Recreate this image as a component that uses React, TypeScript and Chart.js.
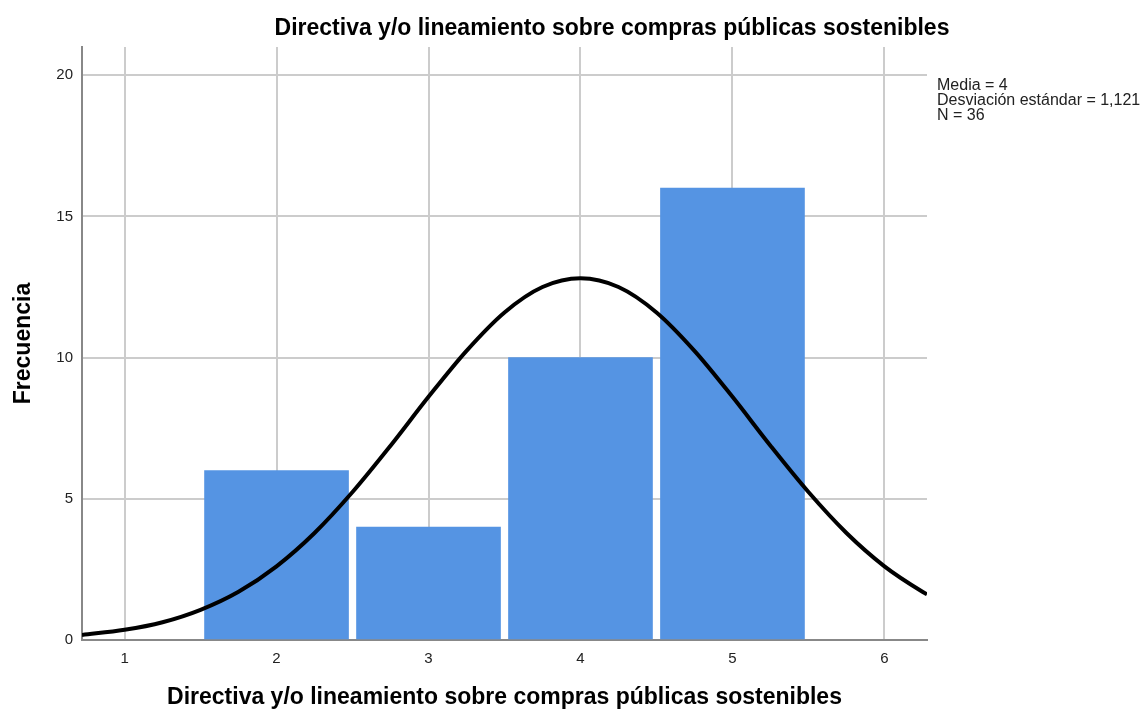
import React, { useEffect, useRef } from "react";
import { Chart, registerables } from "chart.js";

Chart.register(...registerables);

const chartTitle = "Directiva y/o lineamiento sobre compras públicas sostenibles";
const xTitle = "Directiva y/o lineamiento sobre compras públicas sostenibles";
const yTitle = "Frecuencia";
const statsLines = ["Media = 4", "Desviación estándar = 1,121", "N = 36"];

const barCategories = [2, 3, 4, 5];
const barCounts = [6, 4, 10, 16];

const xTickValues = [1, 2, 3, 4, 5, 6];
const yTickValues = [0, 5, 10, 15, 20];

// normal curve points
const curveX = [0.72, 1.0, 1.25, 1.5, 1.75, 2.0, 2.25, 2.5, 2.75, 3.0, 3.25, 3.5, 3.75, 4.0, 4.25, 4.5, 4.75, 5.0, 5.25, 5.5, 5.75, 6.0, 6.25, 6.28];
const curveY = [0.18, 0.36, 0.63, 1.07, 1.71, 2.61, 3.79, 5.24, 6.88, 8.61, 10.24, 11.6, 12.5, 12.81, 12.5, 11.6, 10.24, 8.61, 6.88, 5.24, 3.79, 2.61, 1.71, 1.62];

const FONT = "'Liberation Sans', Arial, sans-serif";

const textPlugin = {
  id: "texts",
  afterDraw(chart: any) {
    const ctx = chart.ctx;
    const area = chart.chartArea;
    ctx.save();
    ctx.fillStyle = "#000";
    ctx.textBaseline = "middle";
    ctx.textAlign = "center";
    ctx.font = `bold 23px ${FONT}`;
    ctx.fillText(chartTitle, 612, 29);
    ctx.fillText(xTitle, (area.left + area.right) / 2, 698);
    ctx.save();
    ctx.translate(24, (area.top + area.bottom) / 2);
    ctx.rotate(-Math.PI / 2);
    ctx.fillText(yTitle, 0, 0);
    ctx.restore();
    ctx.textAlign = "left";
    ctx.font = `16px ${FONT}`;
    ctx.fillStyle = "#222";
    statsLines.forEach((t, i) => ctx.fillText(t, area.right + 10, 86 + i * 15));
    ctx.restore();
  },
};

export default function App() {
  const ref = useRef<HTMLCanvasElement>(null);
  useEffect(() => {
    const chart = new Chart(ref.current!, {
      type: "bar",
      data: {
        datasets: [
          {
            type: "line",
            data: curveX.map((x, i) => ({ x, y: curveY[i] })),
            borderColor: "#000",
            borderWidth: 4,
            pointRadius: 0,
            cubicInterpolationMode: "monotone",
            fill: false,
            order: 0,
          } as any,
          {
            type: "bar",
            data: barCategories.map((x, i) => ({ x, y: barCounts[i] })),
            backgroundColor: "#5594E3",
            barThickness: 144,
            borderWidth: 0,
            order: 1,
          } as any,
        ],
      },
      plugins: [textPlugin],
      options: {
        animation: false,
        responsive: false,
        maintainAspectRatio: false,
        layout: { padding: { top: 47, right: 215, left: 0, bottom: 0 } },
        plugins: { legend: { display: false }, tooltip: { enabled: false } },
        scales: {
          x: {
            type: "linear",
            min: 0.72,
            max: 6.28,
            offset: false,
            afterBuildTicks: (s: any) => {
              s.ticks = xTickValues.map((v) => ({ value: v }));
            },
            afterFit: (s: any) => {
              s.height = 73;
            },
            ticks: {
              padding: 10,
              color: "#222",
              font: { family: FONT, size: 15 },
              callback: (v: any) => String(v),
            },
            grid: { color: "#cccccc", lineWidth: 2, drawTicks: false, offset: false },
            border: { color: "#888888", width: 2 },
          },
          y: {
            type: "linear",
            min: 0,
            max: 21,
            afterBuildTicks: (s: any) => {
              s.ticks = yTickValues.map((v) => ({ value: v }));
            },
            afterFit: (s: any) => {
              s.width = 82;
            },
            ticks: {
              padding: 9,
              color: "#222",
              font: { family: FONT, size: 15 },
              callback: (v: any) => String(v),
            },
            grid: { color: "#cccccc", lineWidth: 2, drawTicks: false },
            border: { color: "#888888", width: 2 },
          },
        },
      },
    });
    return () => chart.destroy();
  }, []);
  return (
    <div style={{ position: "fixed", left: 0, top: 0, width: 1142, height: 713 }}>
      <canvas ref={ref} width={1142} height={713} style={{ width: 1142, height: 713 }} />
    </div>
  );
}
